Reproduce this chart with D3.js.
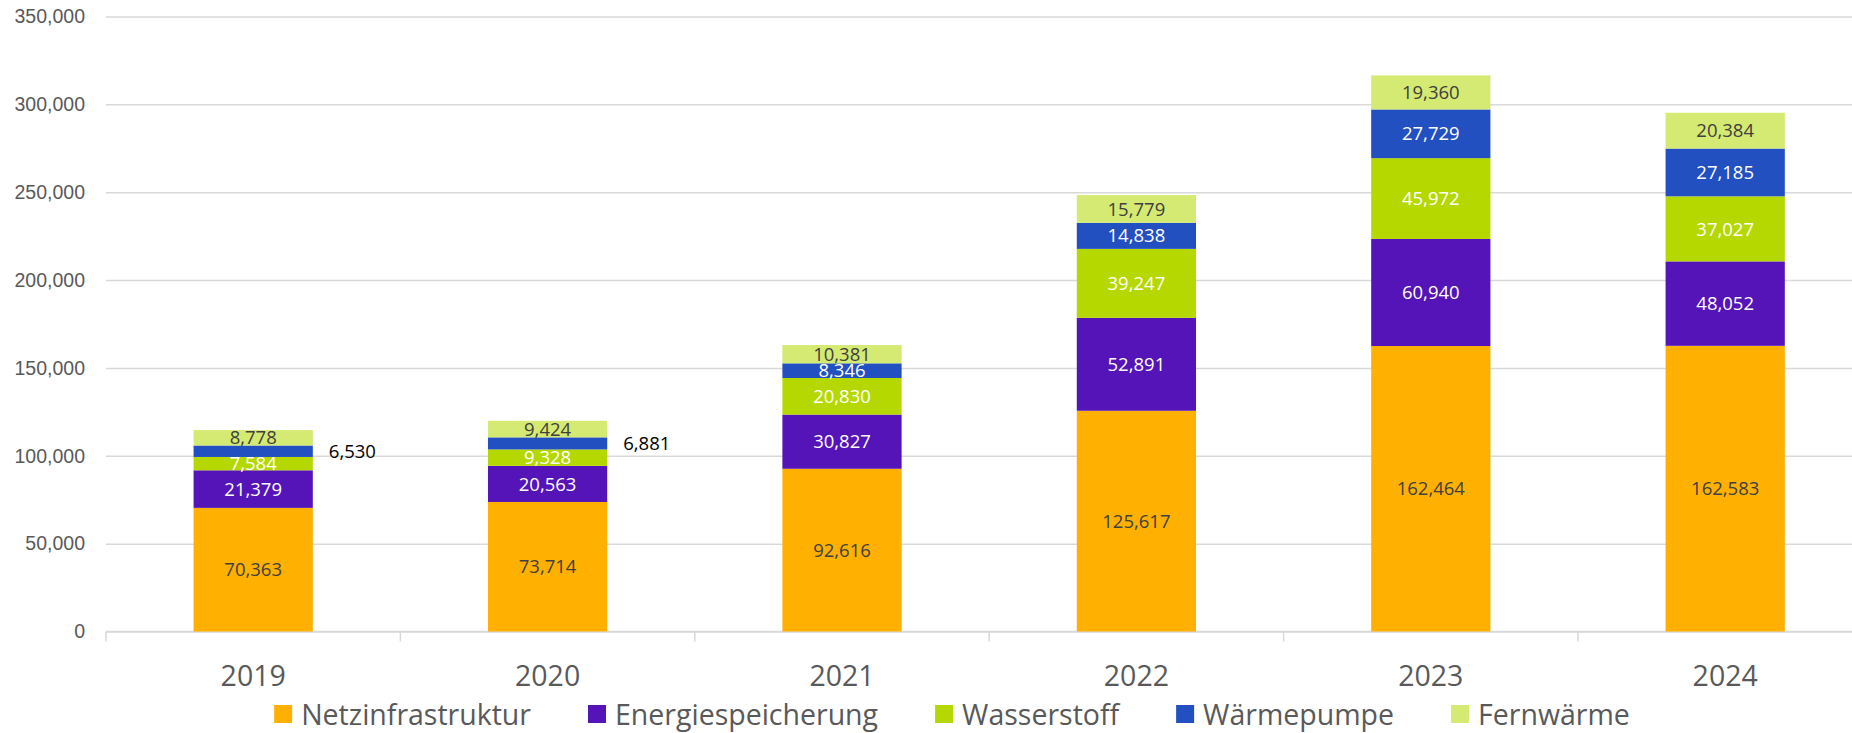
<!DOCTYPE html>
<html>
<head>
<meta charset="utf-8">
<script src="https://cdn.jsdelivr.net/npm/d3@7"></script>
<style>
  body { margin: 0; background: #fff; overflow: hidden; }
  svg { display: block; font-family: "Open Sans", sans-serif; }
</style>
</head>
<body>
<svg id="chart" width="1852" height="733"></svg>
<script>
// categories and series
const years = ['2019', '2020', '2021', '2022', '2023', '2024'];
const seriesNames = ['Netzinfrastruktur', 'Energiespeicherung', 'Wasserstoff', 'Wärmepumpe', 'Fernwärme'];
const netzinfrastruktur = [70363, 73714, 92616, 125617, 162464, 162583];
const energiespeicherung = [21379, 20563, 30827, 52891, 60940, 48052];
const wasserstoff = [7584, 9328, 20830, 39247, 45972, 37027];
const waermepumpe = [6530, 6881, 8346, 14838, 27729, 27185];
const fernwaerme = [8778, 9424, 10381, 15779, 19360, 20384];
const yTicks = [0, 50000, 100000, 150000, 200000, 250000, 300000, 350000];

const colors = ['#FFB000', '#5514B8', '#B5D800', '#2350C0', '#D4EA72'];
const labelColors = ['#404040', '#ffffff', '#ffffff', '#ffffff', '#404040'];
// Wärmepumpe labels that sit beside the bar (too thin inside)
const outsideLabel = { 'Wärmepumpe': [true, true, false, false, false, false] };

const seriesValues = [netzinfrastruktur, energiespeicherung, wasserstoff, waermepumpe, fernwaerme];
const rows = years.map((yr, i) => {
  const r = { year: yr };
  seriesNames.forEach((s, k) => { r[s] = seriesValues[k][i]; });
  return r;
});

const svg = d3.select('#chart');
const m = { left: 106, right: 1872.4, top: 16.5, bottom: 631.5 };

const x = d3.scaleBand().domain(years).range([m.left, m.right])
  .paddingInner(0.595).paddingOuter(0.2975);
const y = d3.scaleLinear().domain([0, 350000]).range([m.bottom, m.top]);

// grid + y labels
const yAxis = svg.append('g')
  .attr('transform', `translate(${m.left},0)`)
  .call(d3.axisLeft(y).tickValues(yTicks).tickFormat(d3.format(',')).tickSize(-(m.right - m.left)).tickPadding(21));
yAxis.select('.domain').remove();
yAxis.selectAll('.tick line').attr('stroke', '#d9d9d9').attr('stroke-width', 1.5);
yAxis.selectAll('.tick text').attr('fill', '#595959').style('font-size', '19.5px');

// x axis baseline and category separators
const step = x.step();
const xg = svg.append('g');
xg.append('line')
  .attr('x1', m.left).attr('x2', m.right).attr('y1', m.bottom).attr('y2', m.bottom)
  .attr('stroke', '#d9d9d9').attr('stroke-width', 1.5);
xg.selectAll('line.sep')
  .data(d3.range(years.length + 1))
  .join('line')
  .attr('class', 'sep')
  .attr('x1', i => m.left + i * step).attr('x2', i => m.left + i * step)
  .attr('y1', m.bottom).attr('y2', m.bottom + 10)
  .attr('stroke', '#d9d9d9').attr('stroke-width', 1.5);
xg.selectAll('text.year')
  .data(years)
  .join('text')
  .attr('class', 'year')
  .attr('x', d => x(d) + x.bandwidth() / 2)
  .attr('y', 686)
  .attr('text-anchor', 'middle')
  .attr('fill', '#595959')
  .style('font-size', '28.5px')
  .text(d => d);

// stacked bars
const stack = d3.stack().keys(seriesNames)(rows);
const layers = svg.append('g').selectAll('g.layer')
  .data(stack)
  .join('g')
  .attr('class', 'layer')
  .attr('fill', (d, i) => colors[i]);

layers.selectAll('rect')
  .data(d => d)
  .join('rect')
  .attr('x', d => x(d.data.year))
  .attr('width', x.bandwidth())
  .attr('y', d => y(d[1]))
  .attr('height', d => y(d[0]) - y(d[1]));

// data labels
const fmt = d3.format(',');
const labels = svg.append('g');
stack.forEach((layer, k) => {
  layer.forEach((d, i) => {
    const out = outsideLabel[layer.key] && outsideLabel[layer.key][i];
    const cx = x(d.data.year) + x.bandwidth() / 2;
    const cy = (y(d[0]) + y(d[1])) / 2;
    labels.append('text')
      .attr('x', out ? x(d.data.year) + x.bandwidth() + 16 : cx)
      .attr('y', cy)
      .attr('dy', '0.36em')
      .attr('text-anchor', out ? 'start' : 'middle')
      .attr('fill', out ? '#000000' : labelColors[k])
      .style('font-size', '18.5px')
      .text(fmt(d[1] - d[0]));
  });
});

// legend
const legend = svg.append('g');
const items = legend.selectAll('g.item')
  .data(seriesNames)
  .join('g')
  .attr('class', 'item');
items.append('rect')
  .attr('width', 18).attr('height', 18)
  .attr('y', 705)
  .attr('fill', (d, i) => colors[i]);
items.append('text')
  .attr('x', 27)
  .attr('y', 725)
  .attr('fill', '#595959')
  .style('font-size', '28.5px')
  .text(d => d);
let cursor = 0;
const widths = [];
items.each(function () {
  widths.push(27 + this.querySelector('text').getComputedTextLength());
});
const gap = 57;
const total = d3.sum(widths) + gap * (widths.length - 1);
const startX = 952 - total / 2;
items.attr('transform', (d, i) => {
  const tx = startX + cursor;
  cursor += widths[i] + gap;
  return `translate(${tx},0)`;
});
</script>
</body>
</html>
